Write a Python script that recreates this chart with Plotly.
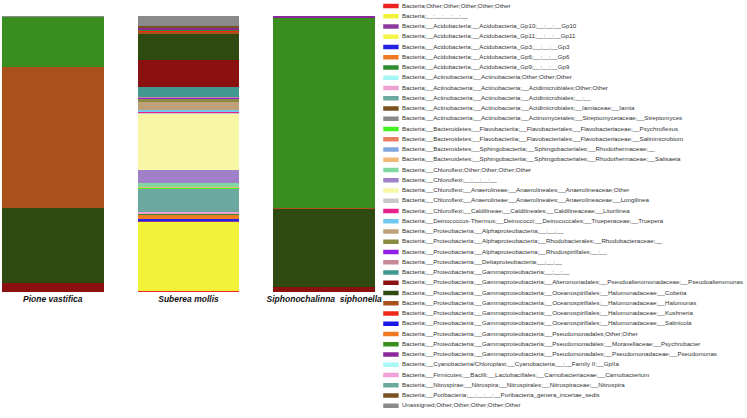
import plotly.graph_objects as go

samples = ["Pione vastifica", "Suberea mollis", "Siphonochalinna  siphonella"]

taxa = [
    "Bacteria;Other;Other;Other;Other;Other",
    "Bacteria;__;__;__;__;__",
    "Bacteria;__Acidobacteria;__Acidobacteria_Gp10;__;__;__Gp10",
    "Bacteria;__Acidobacteria;__Acidobacteria_Gp11;__;__;__Gp11",
    "Bacteria;__Acidobacteria;__Acidobacteria_Gp3;__;__;__Gp3",
    "Bacteria;__Acidobacteria;__Acidobacteria_Gp6;__;__;__Gp6",
    "Bacteria;__Acidobacteria;__Acidobacteria_Gp9;__;__;__Gp9",
    "Bacteria;__Actinobacteria;__Actinobacteria;Other;Other;Other",
    "Bacteria;__Actinobacteria;__Actinobacteria;__Acidimicrobiales;Other;Other",
    "Bacteria;__Actinobacteria;__Actinobacteria;__Acidimicrobiales;__;__",
    "Bacteria;__Actinobacteria;__Actinobacteria;__Acidimicrobiales;__Iamiaceae;__Iamia",
    "Bacteria;__Actinobacteria;__Actinobacteria;__Actinomycetales;__Streptomycetaceae;__Streptomyces",
    "Bacteria;__Bacteroidetes;__Flavobacteriia;__Flavobacteriales;__Flavobacteriaceae;__Psychroflexus",
    "Bacteria;__Bacteroidetes;__Flavobacteriia;__Flavobacteriales;__Flavobacteriaceae;__Salinimicrobium",
    "Bacteria;__Bacteroidetes;__Sphingobacteriia;__Sphingobacteriales;__Rhodothermaceae;__",
    "Bacteria;__Bacteroidetes;__Sphingobacteriia;__Sphingobacteriales;__Rhodothermaceae;__Salisaeta",
    "Bacteria;__Chloroflexi;Other;Other;Other;Other",
    "Bacteria;__Chloroflexi;__;__;__;__",
    "Bacteria;__Chloroflexi;__Anaerolineae;__Anaerolineales;__Anaerolineaceae;Other",
    "Bacteria;__Chloroflexi;__Anaerolineae;__Anaerolineales;__Anaerolineaceae;__Longilinea",
    "Bacteria;__Chloroflexi;__Caldilineae;__Caldilineales;__Caldilineaceae;__Litorilinea",
    "Bacteria;__Deinococcus-Thermus;__Deinococci;__Deinococcales;__Trueperaceae;__Truepera",
    "Bacteria;__Proteobacteria;__Alphaproteobacteria;__;__;__",
    "Bacteria;__Proteobacteria;__Alphaproteobacteria;__Rhodobacterales;__Rhodobacteraceae;__",
    "Bacteria;__Proteobacteria;__Alphaproteobacteria;__Rhodospirillales;__;__",
    "Bacteria;__Proteobacteria;__Deltaproteobacteria;__;__;__",
    "Bacteria;__Proteobacteria;__Gammaproteobacteria;__;__;__",
    "Bacteria;__Proteobacteria;__Gammaproteobacteria;__Alteromonadales;__Pseudoalteromonadaceae;__Pseudoalteromonas",
    "Bacteria;__Proteobacteria;__Gammaproteobacteria;__Oceanospirillales;__Halomonadaceae;__Cobetia",
    "Bacteria;__Proteobacteria;__Gammaproteobacteria;__Oceanospirillales;__Halomonadaceae;__Halomonas",
    "Bacteria;__Proteobacteria;__Gammaproteobacteria;__Oceanospirillales;__Halomonadaceae;__Kushneria",
    "Bacteria;__Proteobacteria;__Gammaproteobacteria;__Oceanospirillales;__Halomonadaceae;__Salinicola",
    "Bacteria;__Proteobacteria;__Gammaproteobacteria;__Pseudomonadales;Other;Other",
    "Bacteria;__Proteobacteria;__Gammaproteobacteria;__Pseudomonadales;__Moraxellaceae;__Psychrobacter",
    "Bacteria;__Proteobacteria;__Gammaproteobacteria;__Pseudomonadales;__Pseudomonadaceae;__Pseudomonas",
    "Bacteria;__Cyanobacteria/Chloroplast;__Cyanobacteria;__;__Family II;__GpIIa",
    "Bacteria;__Firmicutes;__Bacilli;__Lactobacillales;__Carnobacteriaceae;__Carnobacterium",
    "Bacteria;__Nitrospirae;__Nitrospira;__Nitrospirales;__Nitrospiraceae;__Nitrospira",
    "Bacteria;__Poribacteria;__;__;__;__Poribacteria_genera_incertae_sedis",
    "Unassigned;Other;Other;Other;Other;Other",
]

colors = [
    "#ee2222", "#f2f23a", "#8b3a9c", "#f5f54a", "#2222e0", "#f07a22", "#2e8b2e",
    "#a8f5f5", "#f0a0d0", "#6aa8a0", "#7a5020", "#8a8a8a", "#44f022", "#e88060",
    "#80a8e0", "#f0b878", "#80d8a0", "#a080c8", "#f7f7a6", "#c8c8c8", "#e8208a",
    "#70c8f0", "#c0a078", "#8a8a40", "#9020e8", "#c88898", "#409890", "#8b1010",
    "#2f4a10", "#aa501a", "#f02818", "#1818e8", "#f07822", "#3a8e20", "#8a2a9a",
    "#a8f8f8", "#f0a0d8", "#6aa8a0", "#7a5020", "#8a8a8a",
]

pione = [0, 0, 0, 0, 0, 0, 0, 0, 0, 0, 0, 0, 0, 0, 0, 0, 0, 0, 0, 0,
         0, 0, 0, 0, 0, 0, 0, 3.3, 27.2, 51.1, 0, 0, 0, 18.1, 0, 0, 0, 0, 0, 0.3]
suberea = [0.4, 25.0, 0.4, 0.2, 0.4, 1.8, 0.1, 0.1, 0.7, 8.3, 0.1, 0.1, 0.1, 0.1,
           0.1, 0.2, 1.4, 4.7, 20.5, 0.2, 0.5, 0.4, 2.9, 1.4, 0.2, 0.2, 3.6, 9.8,
           9.4, 1.1, 0.2, 0.1, 0.2, 0.3, 0.5, 0.1, 0.1, 0.1, 0.4, 3.6]
siphono = [0, 0, 0, 0, 0, 0, 0, 0, 0, 0, 0, 0, 0, 0, 0, 0, 0, 0, 0, 0,
           0, 0, 0, 0, 0, 0, 0, 1.8, 28.3, 0.3, 0, 0, 0, 69.1, 0.5, 0, 0, 0, 0, 0]

W, H = 747, 418
fig = go.Figure()

for i, name in enumerate(taxa):
    fig.add_trace(go.Bar(
        x=samples, y=[pione[i], suberea[i], siphono[i]],
        name=name, marker=dict(color=colors[i], line=dict(width=0)),
        width=0.75, showlegend=False,
        xaxis="x", yaxis="y",
    ))

# custom compact legend (swatches + labels) on a secondary axis pair
idx = list(range(len(taxa)))
fig.add_trace(go.Scatter(
    x=[0] * len(taxa), y=idx, mode="markers",
    marker=dict(symbol="line-ew", size=11, line=dict(width=4.5, color=colors)),
    xaxis="x2", yaxis="y2", showlegend=False, hoverinfo="skip",
))
fig.add_trace(go.Scatter(
    x=[11] * len(taxa), y=idx, mode="text", text=taxa,
    textposition="middle right",
    textfont=dict(family="Liberation Sans", size=6.2, color="#333333"),
    xaxis="x2", yaxis="y2", showlegend=False, hoverinfo="skip",
))

px_unit = 136.25
left_center = 53
plot_w = 380
x0 = -left_center / px_unit
fig.update_layout(
    width=W, height=H,
    margin=dict(l=0, r=0, t=0, b=0),
    paper_bgcolor="white", plot_bgcolor="rgba(0,0,0,0)",
    barmode="stack",
    xaxis=dict(domain=[0, plot_w / W], range=[x0, x0 + plot_w / px_unit],
               showgrid=False, zeroline=False, showline=False, ticks="",
               tickfont=dict(family="Liberation Sans", size=8.5, color="#111111",
                             style="italic", weight="bold")),
    yaxis=dict(domain=[1 - 292 / H, 1 - 16 / H], range=[0, 100],
               showgrid=False, zeroline=False, showline=False,
               showticklabels=False, ticks=""),
    xaxis2=dict(domain=[0, 1], range=[-392.5, W - 392.5], visible=False,
                anchor="y2"),
    yaxis2=dict(domain=[0, 1], range=[(H - 6) / 10.25, -6 / 10.25],
                visible=False, anchor="x2"),
)

fig.write_html(
    "out.html",
    config={"displayModeBar": False},
    post_script="document.body.style.margin='0';document.body.style.overflow='hidden';",
)
